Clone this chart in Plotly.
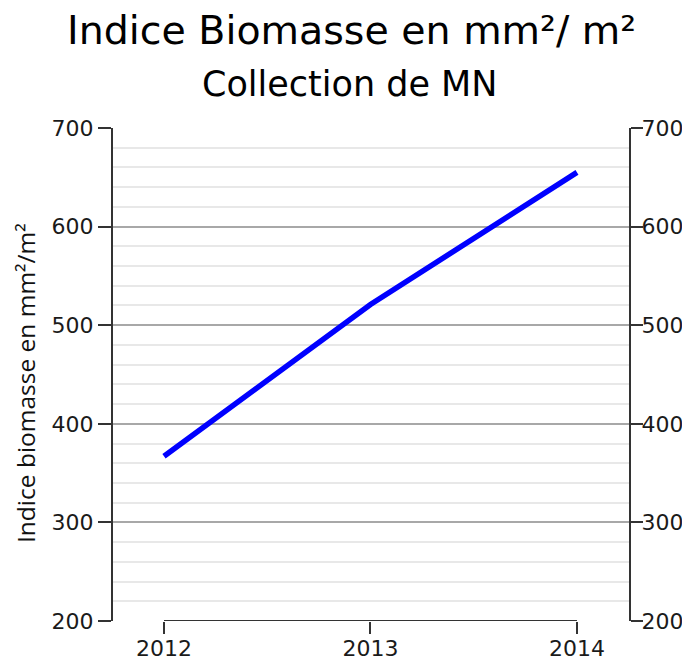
import plotly.graph_objects as go

years = [2012, 2013, 2014]
biomasse = [367, 521, 655]
y_ticks = [200, 300, 400, 500, 600, 700]

title_text = "Indice Biomasse en mm²/ m²"
subtitle_text = "Collection de MN"
ytitle_text = "Indice biomasse en mm²/m²"

FONT = "DejaVu Sans"
AXC = "#333333"
TXT = "#1a1a1a"

fig = go.Figure()
fig.add_trace(go.Scatter(x=years, y=biomasse, mode="lines",
                         line=dict(color="#0000ff", width=5.5),
                         showlegend=False, hoverinfo="x+y"))
fig.add_trace(go.Scatter(x=years, y=biomasse, mode="lines", yaxis="y2",
                         line=dict(color="rgba(0,0,0,0)", width=0),
                         showlegend=False, hoverinfo="skip"))

yaxis_common = dict(range=[200, 700], tickvals=y_ticks, ticks="outside",
                    tickwidth=2, tickcolor=AXC,
                    showline=True, linecolor=AXC, linewidth=2,
                    tickfont=dict(family=FONT, size=22, color=TXT),
                    zeroline=False, fixedrange=True, automargin=False)

# the page body adds an 8px margin, so the figure is 682x656
fig.update_layout(
    template="none",
    width=682, height=656,
    margin=dict(l=105, r=61, t=120, b=43, autoexpand=False),
    paper_bgcolor="white", plot_bgcolor="white",
    font=dict(family=FONT),
    xaxis=dict(range=[2011.753, 2014.252], tickvals=years,
               ticktext=[str(y) for y in years],
               ticks="outside", ticklen=12, tickwidth=2, tickcolor=AXC,
               ticklabelstandoff=-4,
               showline=False, showgrid=False, zeroline=False, automargin=False,
               tickfont=dict(family=FONT, size=22, color=TXT)),
    yaxis=dict(**yaxis_common, ticklen=13, showgrid=True, gridcolor="#a8a8a8", gridwidth=1.5,
               minor=dict(dtick=20, showgrid=True, gridcolor="#e8e8e8", gridwidth=1.5,
                          ticks="")),
    yaxis2=dict(**yaxis_common, ticklen=12, ticklabelstandoff=-6,
                overlaying="y", side="right", showgrid=False),
    shapes=[dict(type="line", xref="x", yref="y", x0=years[0], x1=years[-1],
                 y0=y_ticks[0], y1=y_ticks[0], line=dict(color=AXC, width=2))],
)
fig.add_annotation(text=title_text, xref="paper", yref="paper", x=0.5, y=1,
                   xanchor="center", yanchor="top", xshift=-20, yshift=123, showarrow=False,
                   font=dict(family=FONT, size=39.5, color="black"))
fig.add_annotation(text=subtitle_text, xref="paper", yref="paper", x=0.5, y=1,
                   xanchor="center", yanchor="top", xshift=-21, yshift=66, showarrow=False,
                   font=dict(family=FONT, size=35, color="black"))
fig.add_annotation(text=ytitle_text, xref="paper", yref="paper", x=0, y=0.5,
                   xanchor="center", yanchor="middle", xshift=-88, yshift=-8.5,
                   textangle=-90, showarrow=False,
                   font=dict(family="Open Sans", size=24.5, color="#111"))
fig.write_html("out.html")
